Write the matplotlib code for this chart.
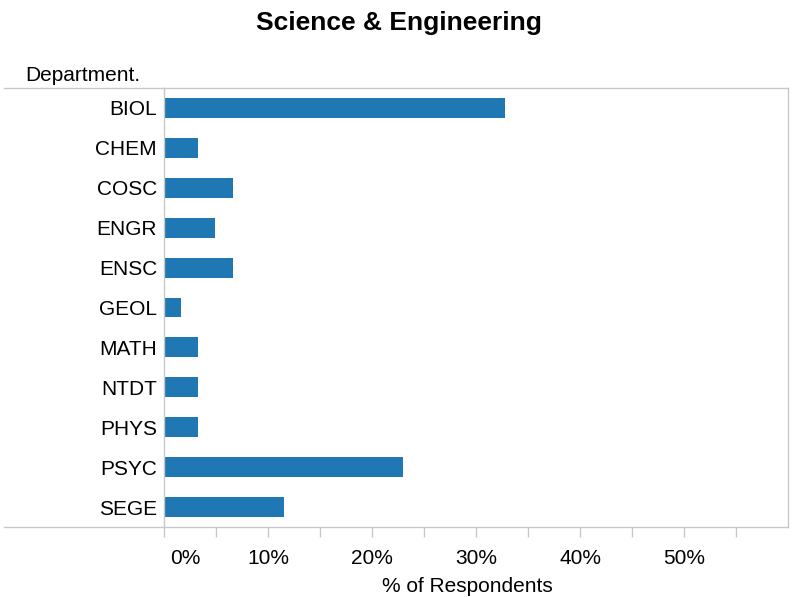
import matplotlib
matplotlib.use("Agg")
import matplotlib.pyplot as plt
import matplotlib.transforms as mtransforms
from matplotlib.lines import Line2D

# data
departments = ["BIOL", "CHEM", "COSC", "ENGR", "ENSC", "GEOL",
               "MATH", "NTDT", "PHYS", "PSYC", "SEGE"]
pct_respondents = [32.8, 3.3, 6.6, 4.9, 6.6, 1.6, 3.3, 3.3, 3.3, 23.0, 11.5]
tick_values = [0, 5, 10, 15, 20, 25, 30, 35, 40, 45, 50, 55]
tick_labels = ["0%", "", "10%", "", "20%", "", "30%", "", "40%", "", "50%", ""]

plt.rcParams["font.family"] = ["Liberation Sans", "DejaVu Sans"]

W, H = 797, 597
fig = plt.figure(figsize=(W / 100, H / 100), dpi=100)

x0, x1 = 164, 788
y0, y1 = 88, 527
ax = fig.add_axes([x0 / W, 1 - y1 / H, (x1 - x0) / W, (y1 - y0) / H])

grey = "#c8c8c8"
fs = 15
ax.barh(range(len(departments)), pct_respondents, height=0.5, color="#1f77b4")
ax.set_ylim(len(departments) - 0.5, -0.5)
ax.set_xlim(0, 60)
ax.set_yticks(range(len(departments)))
ax.set_yticklabels(departments, fontsize=fs)
ax.set_xticks(tick_values)
ax.set_xticklabels(tick_labels, fontsize=fs)
ax.tick_params(axis="y", length=0, pad=5)
ax.tick_params(axis="x", length=7.5, width=1, color=grey, pad=8)
for s in ax.spines.values():
    s.set_color(grey)
    s.set_linewidth(1)

# Tableau nudges the 0% label to the right of the axis
lab0 = ax.get_xticklabels()[0]
lab0.set_transform(lab0.get_transform() +
                   mtransforms.ScaledTranslation(21 / 100, 0, fig.dpi_scale_trans))

# header / footer rules run out to the left edge
for yy in (y0, y1):
    fig.add_artist(Line2D([4 / W, x0 / W], [1 - yy / H, 1 - yy / H],
                          color=grey, lw=1, transform=fig.transFigure))

fig.text(399 / W, 1 - 30 / H, "Science & Engineering", ha="center",
         va="baseline", fontsize=19, fontweight="bold")
fig.text(25 / W, 1 - 81 / H, "Department.", ha="left", va="baseline",
         fontsize=fs)
fig.text(467 / W, 1 - 592 / H, "% of Respondents", ha="center",
         va="baseline", fontsize=fs)

fig.savefig("out.png", dpi=100)
